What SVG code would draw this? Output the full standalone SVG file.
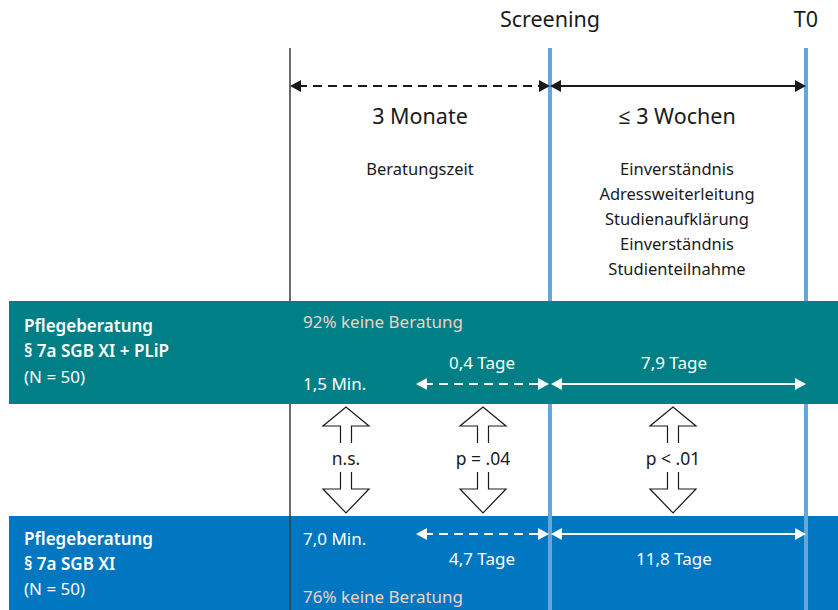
<svg xmlns="http://www.w3.org/2000/svg" width="838" height="610" viewBox="0 0 838 610">
  <style>
    text { font-family: "Noto Sans", "Open Sans", sans-serif; }
    .hdr { font-size: 21.5px; fill: #1a1a1a; text-anchor: middle; }
    .big { font-size: 21.5px; fill: #1a1a1a; text-anchor: middle; }
    .sm { font-size: 16.5px; fill: #1a1a1a; text-anchor: middle; }
    .lbl { font-size: 17px; fill: #ffffff; }
    .lblb { font-size: 17px; fill: #ffffff; font-weight: 600; }
    .pct { font-size: 17px; fill: #ecd3c8; }
    .mid { text-anchor: middle; }
    .stat { font-size: 17.5px; fill: #1a1a1a; text-anchor: middle; }
    .dblk { stroke: #1a1a1a; stroke-width: 2.2; fill: none; }
    .dwht { stroke: #ffffff; stroke-width: 2.2; fill: none; }
    .hollow { fill: none; stroke: #1a1a1a; stroke-width: 1.2; stroke-linejoin: miter; }
  </style>

  <!-- time axes -->
  <g id="axes">
    <line x1="290" y1="48" x2="290" y2="610" stroke="#3a3a3a" stroke-width="1.5"/>
    <line x1="550" y1="48" x2="550" y2="610" stroke="#6aa5d9" stroke-width="4"/>
    <line x1="806" y1="48" x2="806" y2="610" stroke="#6aa5d9" stroke-width="4"/>
  </g>

  <!-- header -->
  <g id="header">
    <text class="hdr" x="550" y="27">Screening</text>
    <text class="hdr" x="806" y="27">T0</text>
    <text class="big" x="420" y="124">3 Monate</text>
    <text class="big" x="677" y="124">≤ 3 Wochen</text>
    <text class="sm" x="420" y="175">Beratungszeit</text>
    <text class="sm" x="677" y="175">Einverständnis</text>
    <text class="sm" x="677" y="200">Adressweiterleitung</text>
    <text class="sm" x="677" y="225">Studienaufklärung</text>
    <text class="sm" x="677" y="250">Einverständnis</text>
    <text class="sm" x="677" y="275">Studienteilnahme</text>
  </g>

  <!-- intervention group -->
  <g id="group-plip">
    <rect x="9" y="301" width="829" height="103" fill="#007f86"/>
    <text class="lblb" x="24" y="332">Pflegeberatung</text>
    <text class="lblb" x="24" y="357">§ 7a SGB XI + PLiP</text>
    <text class="lbl" x="24" y="383">(N = 50)</text>
    <text class="pct" x="303" y="328">92% keine Beratung</text>
    <text class="lbl" x="303" y="390">1,5 Min.</text>
    <text class="lbl mid" x="482" y="369">0,4 Tage</text>
    <text class="lbl mid" x="674" y="369">7,9 Tage</text>
  </g>

  <!-- control group -->
  <g id="group-sgb">
    <rect x="9" y="516" width="829" height="94" fill="#0077c0"/>
    <line x1="290" y1="516" x2="290" y2="610" stroke="#3a3a3a" stroke-width="1.5"/>
    <line x1="550" y1="516" x2="550" y2="610" stroke="#6aa5d9" stroke-width="4"/>
    <line x1="806" y1="516" x2="806" y2="610" stroke="#6aa5d9" stroke-width="4"/>
    <text class="lblb" x="24" y="545">Pflegeberatung</text>
    <text class="lblb" x="24" y="570">§ 7a SGB XI</text>
    <text class="lbl" x="24" y="595">(N = 50)</text>
    <text class="lbl" x="303" y="545">7,0 Min.</text>
    <text class="pct" x="303" y="603">76% keine Beratung</text>
    <text class="lbl mid" x="482" y="565">4,7 Tage</text>
    <text class="lbl mid" x="674" y="565">11,8 Tage</text>
  </g>

  <!-- comparison markers -->
  <g id="compare-min">
    <path class="hollow" d="M340.5,443 L340.5,426 L323,426 L346,407 L369,426 L351.5,426 L351.5,443"/>
    <path class="hollow" d="M340.5,472 L340.5,489 L323,489 L346,513 L369,489 L351.5,489 L351.5,472"/>
    <text class="stat" x="346" y="465">n.s.</text>
  </g>
  <g id="compare-consult">
    <path class="hollow" d="M477.5,443 L477.5,426 L460,426 L483,407 L506,426 L488.5,426 L488.5,443"/>
    <path class="hollow" d="M477.5,472 L477.5,489 L460,489 L483,513 L506,489 L488.5,489 L488.5,472"/>
    <text class="stat" x="483" y="465">p = .04</text>
  </g>
  <g id="compare-screen">
    <path class="hollow" d="M667.5,443 L667.5,426 L650,426 L673,407 L696,426 L678.5,426 L678.5,443"/>
    <path class="hollow" d="M667.5,472 L667.5,489 L650,489 L673,513 L696,489 L678.5,489 L678.5,472"/>
    <text class="stat" x="673" y="465">p &lt; .01</text>
  </g>

  <!-- interval connectors -->
  <g id="connectors">
    <!-- header interval -->
    <line class="dblk" x1="298" y1="86" x2="540" y2="86" stroke-dasharray="9,6"/>
    <line class="dblk" x1="560" y1="86" x2="796" y2="86"/>
    <polygon points="290,86 301,80 301,92" fill="#1a1a1a"/>
    <polygon points="550,86 539,80 539,92" fill="#1a1a1a"/>
    <polygon points="550,86 561,80 561,92" fill="#1a1a1a"/>
    <polygon points="806,86 795,80 795,92" fill="#1a1a1a"/>
    <!-- intervention interval -->
    <line class="dwht" x1="424" y1="384" x2="539" y2="384" stroke-dasharray="9,6"/>
    <line class="dwht" x1="560" y1="384" x2="796" y2="384"/>
    <polygon points="416,384 427,378 427,390" fill="#ffffff"/>
    <polygon points="549,384 538,378 538,390" fill="#ffffff"/>
    <polygon points="551,384 562,378 562,390" fill="#ffffff"/>
    <polygon points="806,384 795,378 795,390" fill="#ffffff"/>
    <!-- control interval -->
    <line class="dwht" x1="424" y1="534" x2="539" y2="534" stroke-dasharray="9,6"/>
    <line class="dwht" x1="560" y1="534" x2="796" y2="534"/>
    <polygon points="416,534 427,528 427,540" fill="#ffffff"/>
    <polygon points="549,534 538,528 538,540" fill="#ffffff"/>
    <polygon points="551,534 562,528 562,540" fill="#ffffff"/>
    <polygon points="806,534 795,528 795,540" fill="#ffffff"/>
  </g>
</svg>
